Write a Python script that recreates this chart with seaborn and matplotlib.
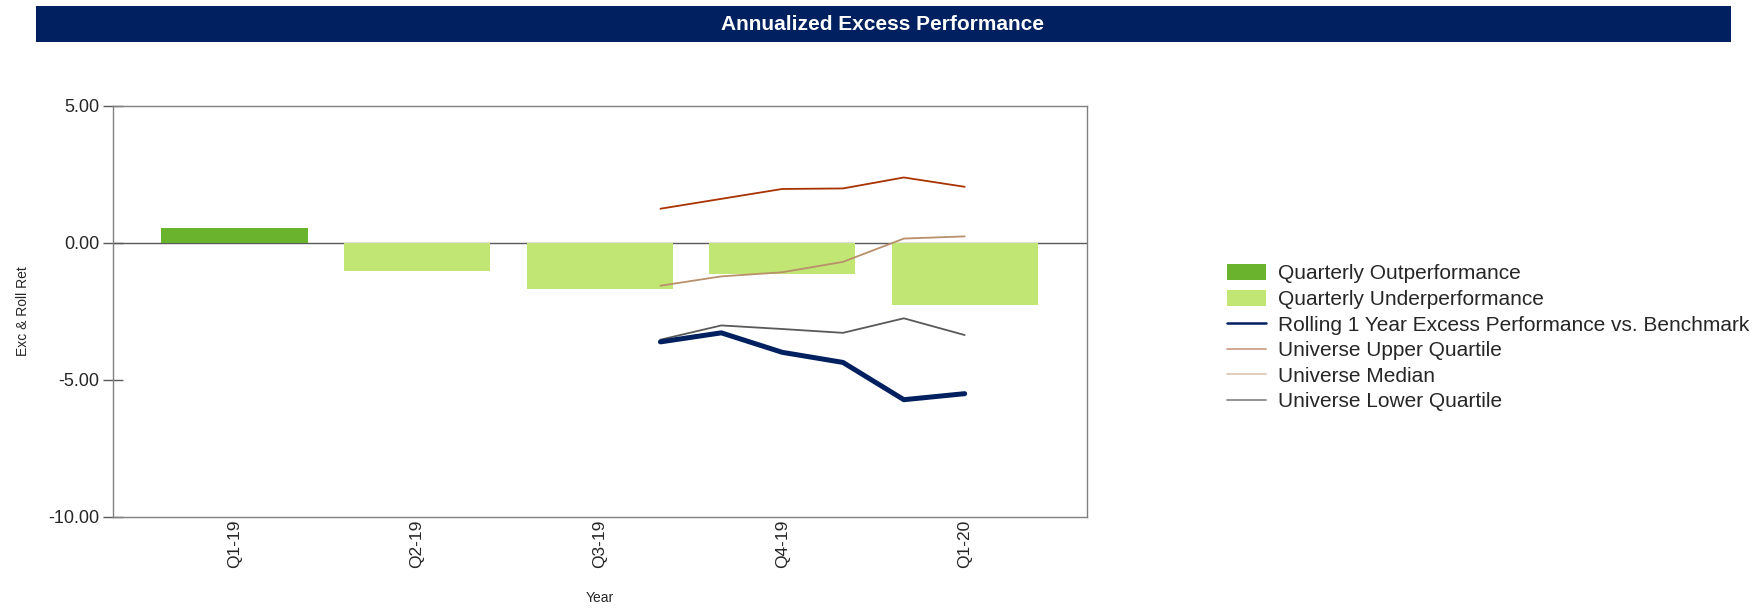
import pandas as pd
import matplotlib.pyplot as plt
import seaborn as sns
from matplotlib.patches import Rectangle, Patch
from matplotlib.lines import Line2D

# Datos trimestrales
quarters = ['Q1-19', 'Q2-19', 'Q3-19', 'Q4-19', 'Q1-20']
quarter_excess = [0.55, -1.02, -1.67, -1.13, -2.28]

# Datos mensuales (rolling 1 año y universo)
months = ['2019-10', '2019-11', '2019-12', '2020-01', '2020-02', '2020-03']
rolling_1y = [-3.61, -3.28, -3.99, -4.36, -5.72, -5.50]
univ_upper = [1.25, 1.61, 1.97, 1.99, 2.39, 2.05]
univ_median = [-1.56, -1.22, -1.07, -0.69, 0.16, 0.24]
univ_lower = [-3.53, -3.01, -3.14, -3.28, -2.75, -3.36]

c_out = '#6ab42d'
c_under = '#c2e673'
c_navy = '#002060'
c_upper = '#a83200'
c_median = '#b8906a'
c_lower = '#595959'

sns.set_style('white')
plt.rcParams['font.family'] = ['Liberation Sans', 'DejaVu Sans']

fig = plt.figure(figsize=(17.62, 6.10), dpi=100)
ax = fig.add_axes([0.0641, 0.1525, 0.5528, 0.6738])

df_q = pd.DataFrame({'quarter': quarters, 'excess': quarter_excess})
bar_colors = [c_out if v >= 0 else c_under for v in quarter_excess]
sns.barplot(data=df_q, x='quarter', y='excess', hue='quarter', palette=bar_colors,
            legend=False, width=0.8, saturation=1, linewidth=0, edgecolor='none',
            ax=ax, zorder=2)

# posicion mensual en unidades de trimestre (Q1-19 = marzo 2019 = 0)
per = pd.PeriodIndex(months, freq='M')
base = pd.Period('2019-03', freq='M')
xpos = [(p - base).n / 3 for p in per]
df_m = pd.DataFrame({'x': xpos, 'roll': rolling_1y, 'up': univ_upper,
                     'med': univ_median, 'low': univ_lower})

sns.lineplot(data=df_m, x='x', y='up', color=c_upper, lw=1.3, ax=ax, zorder=3)
sns.lineplot(data=df_m, x='x', y='med', color=c_median, lw=1.3, ax=ax, zorder=3)
sns.lineplot(data=df_m, x='x', y='low', color=c_lower, lw=1.3, ax=ax, zorder=3)
sns.lineplot(data=df_m, x='x', y='roll', color=c_navy, lw=3.6, ax=ax, zorder=4,
             solid_capstyle='round')

ax.axhline(0, color='#595959', lw=1, zorder=1)
ax.set_xlim(-0.666, 4.67)
ax.set_ylim(-10, 5)
ax.set_yticks([5, 0, -5, -10])
ax.set_yticklabels(['5.00', '0.00', '-5.00', '-10.00'], fontsize=13)
ax.set_xticks(range(len(quarters)))
ax.set_xticklabels(quarters, rotation=90, fontsize=12.5)
ax.tick_params(axis='x', length=0, pad=2)
ax.tick_params(axis='y', left=True, direction='inout', length=14, width=1,
               color='#595959', pad=3)
for s in ax.spines.values():
    s.set_color('#808080')
    s.set_linewidth(1)
ax.set_xlabel('Year', fontsize=10)
ax.xaxis.set_label_coords(0.5, -0.18)
ax.set_ylabel('Exc & Roll Ret', fontsize=10)
ax.yaxis.set_label_coords(-0.085, 0.5)

# Barra de titulo
fig.patches.append(Rectangle((0.0204, 0.9311), 0.962, 0.0598, transform=fig.transFigure,
                             facecolor=c_navy, edgecolor='none'))
fig.text(0.501, 0.9605, 'Annualized Excess Performance', color='white', fontsize=15,
         fontweight='bold', ha='center', va='center')

handles = [Patch(facecolor=c_out, edgecolor='none'),
           Patch(facecolor=c_under, edgecolor='none'),
           Line2D([], [], color=c_navy, lw=1.8),
           Line2D([], [], color='#c89a80', lw=1.2),
           Line2D([], [], color='#dcc4ae', lw=1.2),
           Line2D([], [], color='#808080', lw=1.2)]
labels = ['Quarterly Outperformance', 'Quarterly Underperformance',
          'Rolling 1 Year Excess Performance vs. Benchmark', 'Universe Upper Quartile',
          'Universe Median', 'Universe Lower Quartile']
fig.legend(handles, labels, loc='upper left', bbox_to_anchor=(0.6964, 0.567),
           frameon=False, fontsize=15, borderpad=0, borderaxespad=0,
           handlelength=1.87, handleheight=0.82, handletextpad=0.58, labelspacing=0.3)

fig.savefig('out.png', dpi=100)
